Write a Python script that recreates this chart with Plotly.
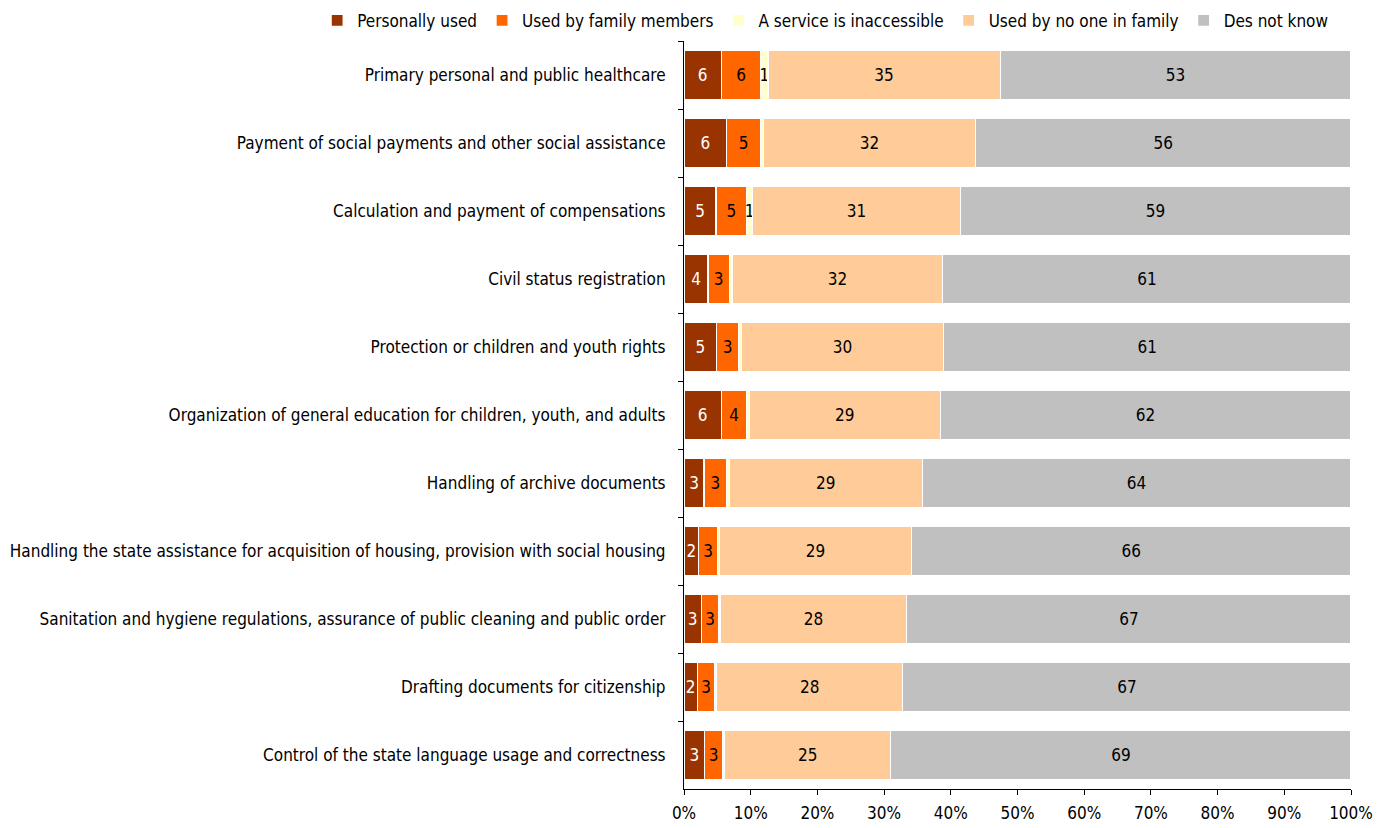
import plotly.graph_objects as go

# Public services: share of respondents by usage, % of all respondents
services = [
    "Primary personal and public healthcare",
    "Payment of social payments and other social assistance",
    "Calculation and payment of compensations",
    "Civil status registration",
    "Protection or children and youth rights",
    "Organization of general education for children, youth, and adults",
    "Handling of archive documents",
    "Handling the state assistance for acquisition of housing, provision with social housing",
    "Sanitation and hygiene regulations, assurance of public cleaning and public order",
    "Drafting documents for citizenship",
    "Control of the state language usage and correctness",
]

personally_used = [5.6, 6.4, 4.8, 3.6, 4.9, 5.6, 3.0, 2.2, 2.6, 2.0, 3.1]
used_by_family = [5.9, 5.1, 4.6, 3.2, 3.3, 3.8, 3.4, 2.8, 2.6, 2.6, 2.7]
inaccessible = [1.1, 0.4, 0.9, 0.4, 0.4, 0.4, 0.4, 0.3, 0.2, 0.3, 0.3]
used_by_no_one = [34.8, 31.8, 31.1, 31.6, 30.3, 28.6, 28.9, 28.8, 28.0, 27.9, 24.9]
does_not_know = [52.6, 56.3, 58.6, 61.2, 61.1, 61.6, 64.3, 65.9, 66.6, 67.2, 69.0]

series = [
    ("Personally used", personally_used, "#993300", "white"),
    ("Used by family members", used_by_family, "#FF6600", "black"),
    ("A service is inaccessible", inaccessible, "#FFFFCC", "black"),
    ("Used by no one in family", used_by_no_one, "#FFCC99", "black"),
    ("Des not know", does_not_know, "#C0C0C0", "black"),
]

x_ticks = list(range(0, 101, 10))

FONT = "DejaVu Sans Condensed, DejaVu Sans, sans-serif"
SIZE = 17

fig = go.Figure()
for name, values, color, text_color in series:
    labels = [f"{round(v):d}" if v >= 0.5 else "" for v in values]
    fig.add_trace(go.Bar(
        y=services,
        x=values,
        name=name,
        orientation="h",
        marker=dict(color=color, line=dict(color="white", width=1.2)),
        text=labels,
        textposition="inside",
        insidetextanchor="middle",
        textangle=0,
        constraintext="none",
        textfont=dict(color=text_color, size=SIZE, family=FONT),
        cliponaxis=False,
        hoverinfo="skip",
    ))

fig.update_layout(
    barmode="stack",
    bargap=0.29,
    width=1391,
    height=828,
    margin=dict(l=684, r=40, t=41, b=39, autoexpand=False),
    paper_bgcolor="white",
    plot_bgcolor="white",
    font=dict(family=FONT, size=SIZE, color="black"),
    legend=dict(
        orientation="h",
        xref="paper",
        x=-0.55,
        xanchor="left",
        yref="paper",
        y=1.003,
        yanchor="bottom",
        font=dict(size=SIZE, family=FONT),
        itemwidth=30,
        tracegroupgap=0,
        traceorder="normal",
        bgcolor="rgba(0,0,0,0)",
    ),
    showlegend=True,
)

fig.update_xaxes(
    range=[0, 100],
    tickvals=x_ticks,
    ticktext=[f"{t}%" for t in x_ticks],
    ticks="outside",
    ticklen=5,
    tickcolor="black",
    showline=True,
    linecolor="black",
    linewidth=1,
    showgrid=False,
    zeroline=False,
    automargin=False,
    ticklabelstandoff=4,
    tickfont=dict(size=SIZE, family=FONT),
)
fig.update_yaxes(
    autorange="reversed",
    ticks="outside",
    tickson="boundaries",
    ticklen=5,
    tickcolor="black",
    showline=True,
    linecolor="black",
    linewidth=1,
    showgrid=False,
    automargin=False,
    ticklabelstandoff=14,
    tickfont=dict(size=SIZE, family=FONT),
)

fig.write_html("out.html")
